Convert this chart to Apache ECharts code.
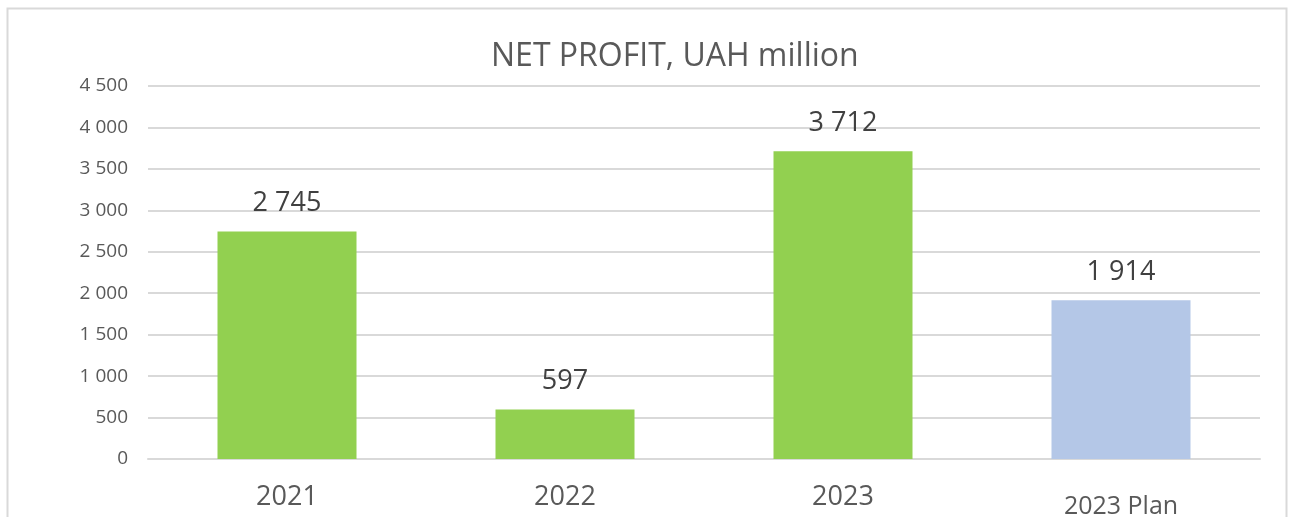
<!DOCTYPE html>
<html>
<head>
<meta charset="utf-8">
<script src="https://cdn.jsdelivr.net/npm/echarts@6/dist/echarts.min.js"></script>
<style>
  html, body { margin: 0; padding: 0; background: #fff; }
  #chart { width: 1290px; height: 517px; }
</style>
</head>
<body>
<div id="chart"></div>
<script>
const categories = ["2021", "2022", "2023", "2023 Plan"];
const profit = [2745, 597, 3712, 1914];
const barColors = ["#92D050", "#92D050", "#92D050", "#B4C7E7"];

// 4 500 style: space as thousands separator
function spaced(v) {
  return String(v).replace(/\B(?=(\d{3})+(?!\d))/g, " ");
}

const chart = echarts.init(document.getElementById("chart"));
chart.setOption({
  animation: false,
  textStyle: { fontFamily: "Open Sans" },
  title: {
    text: "NET PROFIT, UAH million",
    left: 486,
    top: 36,
    textStyle: { fontSize: 32, fontWeight: "normal", color: "#595959" }
  },
  graphic: [{
    type: "rect",
    shape: { x: 7.5, y: 8.5, width: 1279, height: 520 },
    style: { fill: "none", stroke: "#d9d9d9", lineWidth: 2 },
    silent: true
  }],
  grid: { left: 148, right: 30, top: 86, bottom: 58, outerBoundsMode: "none" },
  xAxis: {
    type: "category",
    data: categories,
    axisLine: { lineStyle: { color: "#d9d9d9", width: 2 } },
    axisTick: { show: false },
    axisLabel: {
      margin: 25,
      fontSize: 27,
      color: "#595959",
      formatter: function (v) {
        return v === "2023 Plan" ? "{p|" + v + "}" : v;
      },
      rich: { p: { fontSize: 25, color: "#595959", padding: [10, 0, 0, 0] } }
    }
  },
  yAxis: {
    type: "value",
    min: 0,
    max: 4500,
    interval: 500,
    axisLine: { show: false },
    axisTick: { show: false },
    splitLine: { lineStyle: { color: "#d9d9d9", width: 2 } },
    axisLabel: {
      margin: 20,
      fontSize: 19,
      color: "#595959",
      formatter: spaced
    }
  },
  series: [{
    type: "bar",
    barWidth: "50%",
    data: profit.map((v, i) => ({ value: v, itemStyle: { color: barColors[i] } })),
    label: {
      show: true,
      position: "top",
      distance: 15,
      fontSize: 27,
      color: "#404040",
      formatter: p => spaced(p.value)
    }
  }]
});
</script>
</body>
</html>
